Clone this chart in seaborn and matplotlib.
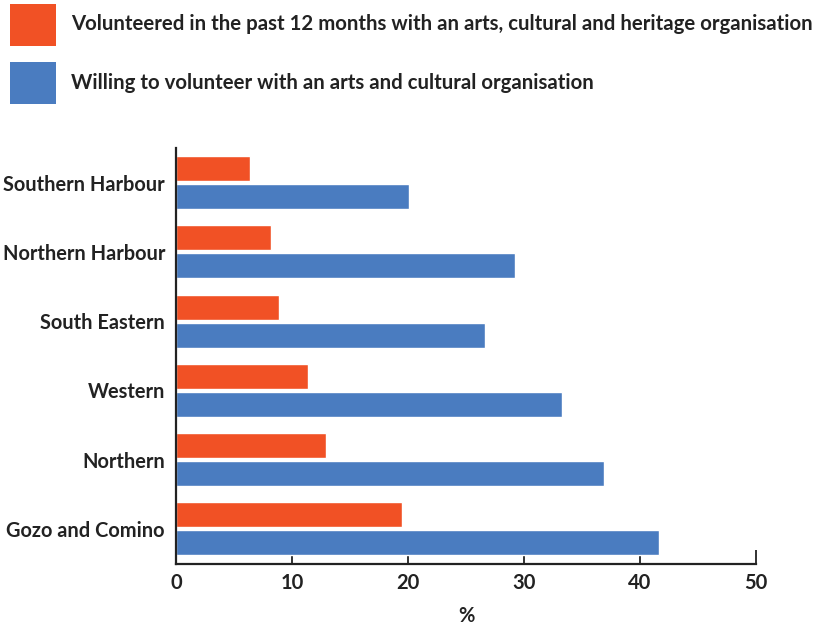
import matplotlib
matplotlib.use("Agg")
import matplotlib.pyplot as plt
import matplotlib.transforms as mtransforms
from matplotlib.patches import Rectangle
import pandas as pd
import seaborn as sns

regions = ["Southern Harbour", "Northern Harbour", "South Eastern",
           "Western", "Northern", "Gozo and Comino"]
volunteered = [6.4, 8.2, 8.9, 11.4, 12.9, 19.5]
willing = [20.1, 29.2, 26.6, 33.3, 36.9, 41.6]
series_names = [
    "Volunteered in the past 12 months with an arts, cultural and heritage organisation",
    "Willing to volunteer with an arts and cultural organisation",
]
x_ticks = [0, 10, 20, 30, 40, 50]
colors = ["#F15125", "#4A7CC0"]

df = pd.DataFrame({
    "region": regions * 2,
    "value": volunteered + willing,
    "series": [series_names[0]] * len(regions) + [series_names[1]] * len(regions),
})

sns.set_theme(style="white")
plt.rcParams["font.family"] = ["Lato", "DejaVu Sans"]

fig = plt.figure(figsize=(8.18, 6.28), dpi=100)
ax = fig.add_axes([176 / 818, 1 - 563.5 / 628, 580 / 818, 415.5 / 628])

sns.barplot(data=df, x="value", y="region", hue="series", order=regions,
            hue_order=series_names, palette=colors, orient="h",
            width=0.807, gap=0.107, saturation=1, ax=ax, legend=False)

ax.set_xlim(0, 50)
ax.set_ylim(5.5, -0.5)
ax.set_xticks(x_ticks)
ax.set_xticklabels([str(t) for t in x_ticks], fontsize=14.5, fontweight="bold",
                   color="#222222")
ax.set_yticklabels(regions, fontsize=14.4, fontweight="bold", color="#222222")
ax.set_xlabel("%", fontsize=14.5, fontweight="bold", color="#222222", labelpad=9)
ax.set_ylabel("")

# nudge region labels slightly downward
shift = mtransforms.ScaledTranslation(0, -3 / 100, fig.dpi_scale_trans)
for lbl in ax.get_yticklabels():
    lbl.set_transform(lbl.get_transform() + shift)

for side in ["top", "right"]:
    ax.spines[side].set_visible(False)
for side in ["left", "bottom"]:
    ax.spines[side].set_color("#222222")
    ax.spines[side].set_linewidth(1.6)
ax.tick_params(axis="x", direction="in", length=10, width=1.3, color="#222222",
               pad=7, bottom=True)
ax.tick_params(axis="y", length=0, pad=8)

# legend drawn as swatches and labels across the top of the figure
W, H = 818, 628
for i, (name, col) in enumerate(zip(series_names, colors)):
    top = 4 + 58 * i
    fig.patches.append(Rectangle((10 / W, 1 - (top + 42) / H), 46 / W, 42 / H,
                                 transform=fig.transFigure, facecolor=col,
                                 edgecolor="none"))
    fig.text(71 / W, 1 - (top + 20 + i) / H, name, fontsize=14.7, fontweight="bold",
             color="#222222", va="center", ha="left")

fig.savefig("out.png", dpi=100)
